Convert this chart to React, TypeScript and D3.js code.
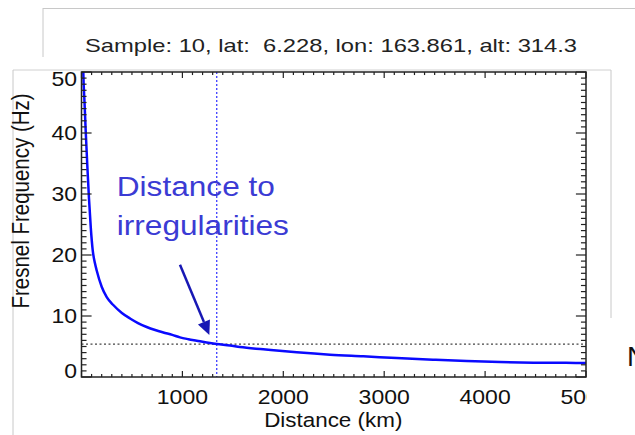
import React from "react";
import * as d3 from "d3";

// Data
const distanceKm = [10, 18, 30, 42, 58, 74, 92, 111, 134, 150, 200, 250, 315, 400, 481, 560, 646, 730, 811, 900, 976, 1060, 1142, 1240, 1340, 1472, 1571, 1802, 2133, 2463, 2793, 3124, 3487, 3818, 4148, 4478, 4800, 5000];
const fresnelHz = [58, 50, 45, 40.2, 34.5, 29.3, 24.5, 20.8, 18.6, 17.5, 14.8, 13.1, 11.8, 10.5, 9.6, 8.85, 8.2, 7.7, 7.3, 6.9, 6.5, 6.2, 5.95, 5.65, 5.4, 5.15, 4.9, 4.54, 4.05, 3.66, 3.39, 3.11, 2.84, 2.62, 2.46, 2.35, 2.32, 2.3];
const xTickValues = [1000, 2000, 3000, 4000, 5000];
const yTickValues = [0, 10, 20, 30, 40, 50];
const markDistance = 1340;
const markFrequency = 5.4;
const arrowFrom = [976, 18.4];
const arrowTo = [1267, 6.9];
const noteLines = ["Distance to", "irregularities"];
const noteAnchor = [349, 29.7];
const titleText = "Sample: 10, lat:  6.228, lon: 163.861, alt: 314.3";

const W = 635, H = 435;
const L = 81.5, R = 586, T = 72, B = 377;
const SX = 1.15;
const FONT = "'Liberation Sans', Arial, Helvetica, sans-serif";

export default function App() {
  const x = d3.scaleLinear().domain([0, 5000]).range([L, R]);
  const y = d3.scaleLinear().domain([0, 50]).range([B, T]);
  const line = d3.line<number>().x((d, i) => x(distanceKm[i])).y((d) => y(d)).curve(d3.curveMonotoneX);
  const xMinor = d3.range(0, 5001, 100);
  const yMinor = d3.range(0, 51, 1);
  const xTickLen = 0.02 * (B - T);
  const yTickLen = 0.02 * (R - L);

  const ax = x(arrowFrom[0]), ay = y(arrowFrom[1]);
  const bx = x(arrowTo[0]), by = y(arrowTo[1]);
  const len = Math.hypot(bx - ax, by - ay);
  const ux = (bx - ax) / len, uy = (by - ay) / len;
  const hl = 14, hw = 6.5;
  const baseX = bx - ux * hl, baseY = by - uy * hl;
  const head = `M${bx},${by} L${baseX - uy * hw},${baseY + ux * hw} L${baseX + uy * hw},${baseY - ux * hw} Z`;

  return (
    <svg width={W} height={H} style={{ position: "fixed", left: 0, top: 0, background: "#fff" }} fontFamily={FONT}>
      <defs>
        <clipPath id="plotclip"><rect x={L} y={T} width={R - L} height={B - T} /></clipPath>
        <clipPath id="labelclip"><rect x={0} y={0} width={587} height={H} /></clipPath>
      </defs>
      {/* surrounding frames */}
      <line x1={43} y1={8.5} x2={W} y2={8.5} stroke="#c8c8c8" />
      <line x1={43} y1={8} x2={43} y2={57} stroke="#c8c8c8" />
      <line x1={13} y1={70} x2={611} y2={70} stroke="#d0d0d0" />
      <line x1={13} y1={70} x2={13} y2={H} stroke="#c8c8c8" />
      <line x1={611} y1={70} x2={611} y2={318} stroke="#c8c8c8" />
      <text x={85} y={52} fontSize={19} fill="#222" textLength={492} lengthAdjust="spacingAndGlyphs" style={{ whiteSpace: "pre" }}>{titleText}</text>
      <text x={627} y={366} fontSize={28} fill="#111">N</text>

      {/* reference lines */}
      <line x1={L} x2={R} y1={y(markFrequency)} y2={y(markFrequency)} stroke="#444" strokeWidth={1.2} strokeDasharray="2,2.5" />
      <line x1={x(markDistance)} x2={x(markDistance)} y1={T} y2={B} stroke="#4a4aff" strokeWidth={1.4} strokeDasharray="2,2" />

      {/* curve */}
      <path d={line(fresnelHz) || ""} fill="none" stroke="#0a0aff" strokeWidth={2.5} clipPath="url(#plotclip)" />

      {/* axes box */}
      <rect x={L} y={T} width={R - L} height={B - T} fill="none" stroke="#222" strokeWidth={1.5} />
      {xMinor.map((v) => {
        const major = v % 1000 === 0;
        const l = major ? xTickLen : xTickLen / 2;
        return (
          <g key={"xm" + v} stroke="#222" strokeWidth={1.2}>
            <line x1={x(v)} x2={x(v)} y1={B} y2={B - l} />
            <line x1={x(v)} x2={x(v)} y1={T} y2={T + l} />
          </g>
        );
      })}
      {yMinor.map((v) => {
        const major = v % 10 === 0;
        const l = major ? yTickLen : yTickLen / 2;
        return (
          <g key={"ym" + v} stroke="#222" strokeWidth={1.2}>
            <line x1={L} x2={L + l} y1={y(v)} y2={y(v)} />
            <line x1={R} x2={R - l} y1={y(v)} y2={y(v)} />
          </g>
        );
      })}

      {/* tick labels */}
      <g clipPath="url(#labelclip)" fill="#111" fontSize={20}>
        {xTickValues.map((v) => (
          <text key={"xl" + v} transform={`translate(${x(v)},404) scale(${SX},1)`} textAnchor="middle">{v}</text>
        ))}
      </g>
      <g fill="#111" fontSize={20}>
        {yTickValues.map((v) => (
          <text key={"yl" + v} transform={`translate(77,${Math.min(371, Math.max(79, y(v)))}) scale(${SX},1)`} textAnchor="end" dominantBaseline="central">{v}</text>
        ))}
      </g>
      <text transform={`translate(${(L + R) / 2 - 0.5},427) scale(${SX},1)`} textAnchor="middle" fontSize={19.5} fill="#111">Distance (km)</text>
      <text transform={`translate(29,201) scale(${SX},1) rotate(-90)`} textAnchor="middle" fontSize={20.5} fill="#111">Fresnel Frequency (Hz)</text>

      {/* annotation */}
      <line x1={ax} y1={ay} x2={baseX} y2={baseY} stroke="#1818b4" strokeWidth={2.5} />
      <path d={head} fill="#1818b4" />
      {noteLines.map((s, i) => (
        <text key={s} transform={`translate(${x(noteAnchor[0])},${y(noteAnchor[1]) + i * 39.5}) scale(${SX},1)`} fontSize={27.5} fill="#3b3bd4">{s}</text>
      ))}
    </svg>
  );
}
